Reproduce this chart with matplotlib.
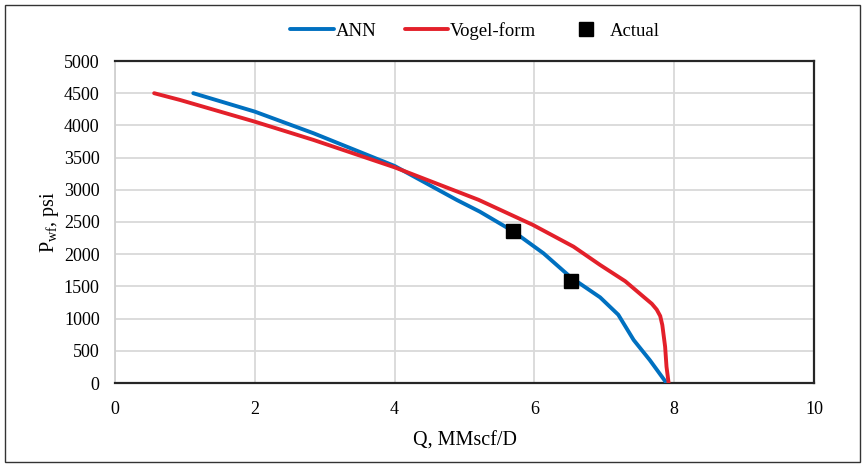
import matplotlib
matplotlib.use("Agg")
import matplotlib.pyplot as plt
from matplotlib.patches import Rectangle

# Data
ann_q = [1.12, 2.0, 2.84, 4.0, 4.89, 5.22, 5.69, 6.13, 6.52, 6.94, 7.2, 7.42, 7.65, 7.89]
ann_p = [4500, 4214, 3878, 3370, 2842, 2660, 2360, 2014, 1641, 1330, 1060, 668, 357, 0]

vogel_q = [0.56, 0.93, 2.0, 2.84, 4.0, 5.2, 5.98, 6.56, 6.94, 7.3, 7.56, 7.68, 7.75, 7.8, 7.83, 7.87, 7.89, 7.92]
vogel_p = [4500, 4395, 4058, 3774, 3349, 2845, 2454, 2117, 1833, 1580, 1340, 1230, 1140, 1040, 900, 564, 253, 0]

actual_q = [5.69, 6.52]
actual_p = [2360, 1590]

x_ticks = [0, 2, 4, 6, 8, 10]
y_ticks = [0, 500, 1000, 1500, 2000, 2500, 3000, 3500, 4000, 4500, 5000]

plt.rcParams['font.family'] = ['Liberation Serif', 'DejaVu Serif']
plt.rcParams['mathtext.fontset'] = 'custom'
plt.rcParams['mathtext.rm'] = 'Liberation Serif'
plt.rcParams['mathtext.it'] = 'Liberation Serif:italic'

fig = plt.figure(figsize=(8.65, 4.67), dpi=100)
ax = fig.add_axes([115/865, 1 - 383/467, (814 - 115)/865, (383 - 61)/467])

ax.plot(ann_q, ann_p, color='#0070C0', lw=2.8, label='ANN', zorder=3,
        solid_capstyle='round', solid_joinstyle='round')
ax.plot(vogel_q, vogel_p, color='#E3202A', lw=2.8, label='Vogel-form', zorder=3,
        solid_capstyle='round', solid_joinstyle='round')
ax.plot(actual_q, actual_p, linestyle='none', marker='s', color='black', ms=10, label='Actual', zorder=4)

ax.set_xlim(0, 10)
ax.set_ylim(0, 5000)
ax.set_xticks(x_ticks)
ax.set_yticks(y_ticks)
ax.tick_params(length=0, labelsize=13, pad=11)
ax.tick_params(axis='x', pad=13)
ax.grid(True, color='#d9d9d9', lw=1.3)
ax.set_axisbelow(True)

for s in ['top', 'right', 'bottom']:
    ax.spines[s].set_color('#262626')
    ax.spines[s].set_linewidth(1.6)
ax.spines['left'].set_color('#d0d0d0')
ax.spines['left'].set_linewidth(1.3)

ax.set_xlabel('Q, MMscf/D', fontsize=14.5, labelpad=10)
ax.set_ylabel(r'P$_{\mathrm{wf}}$, psi', fontsize=14.5, labelpad=2)

fig.legend(loc='center', bbox_to_anchor=(475/865, 1 - 31/467), ncol=3, frameon=False,
           fontsize=13.5, handlelength=2.3, handletextpad=0.12, columnspacing=1.5)

fig.patches.append(Rectangle((5/865, 5/467), 855/865, 457/467, transform=fig.transFigure,
                             fill=False, edgecolor='#333333', lw=1.0))

fig.savefig('out.png', dpi=100)
